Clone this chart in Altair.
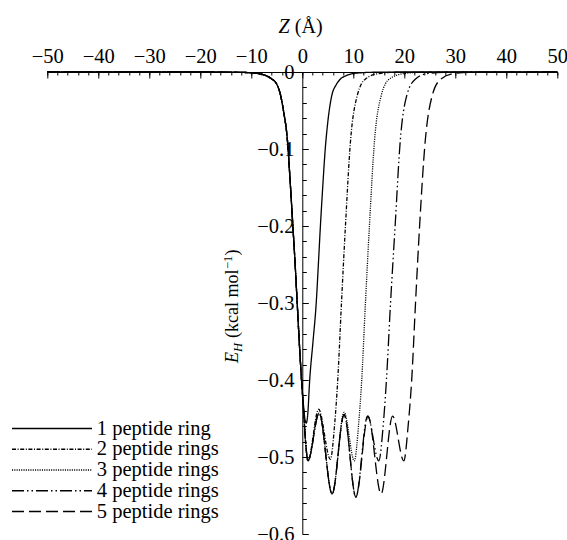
import altair as alt
import pandas as pd

# ---------------- data ----------------
series_names = ["1 peptide ring", "2 peptide rings", "3 peptide rings",
                "4 peptide rings", "5 peptide rings"]

# common descending (left) flank shared by every curve
left_z = [-50, -20, -15, -12, -10, -8.5, -7, -6, -5, -4.3, -3.7, -2.9, -2.4,
          -1.85, -1.4, -1.0, -0.6, -0.15]
left_E = [0, 0, -0.0001, -0.0005, -0.001, -0.0022, -0.005, -0.009, -0.016,
          -0.029, -0.05, -0.09, -0.14, -0.20, -0.25, -0.30, -0.35, -0.40]

# 1 peptide ring
ring1_z = [0.2, 0.5, 0.78, 1.05, 1.45, 2.1, 2.73, 3.15, 3.55, 4.0, 4.5, 5.0,
           5.8, 6.6, 7.5, 8.5, 10, 12, 15, 20, 50]
ring1_E = [-0.43, -0.45, -0.456, -0.446, -0.40, -0.35, -0.30, -0.25, -0.20,
           -0.15, -0.10, -0.065, -0.03, -0.017, -0.009, -0.005, -0.002,
           -0.0008, -0.0002, 0, 0]

# first well shared by the multi-ring curves
multi_z = [0.3, 0.7, 1.1]
multi_E = [-0.445, -0.485, -0.505]

ring2_z = [3.2, 5.5, 6.36, 6.95, 7.68, 8.46, 9.45, 10.8, 12.4, 15, 18, 50]
ring2_E = [-0.438, -0.503, -0.456, -0.40, -0.30, -0.20, -0.09, -0.03, -0.009,
           -0.002, -0.0005, 0]

ring3_z = [3.3, 5.85, 8.2, 10.2, 11.06, 11.65, 12.38, 13.16, 14.15, 15.5,
           17.1, 19.9, 23, 50]
ring3_E = [-0.443, -0.548, -0.442, -0.505, -0.456, -0.40, -0.30, -0.20, -0.09,
           -0.03, -0.009, -0.002, -0.0005, 0]

ring4_z = [3.3, 5.85, 8.2, 10.5, 12.8, 15.0, 15.9, 16.5, 17.3, 18.2, 19.2,
           20.5, 22.2, 24.5, 28, 50]
ring4_E = [-0.443, -0.548, -0.445, -0.552, -0.447, -0.505, -0.456, -0.40,
           -0.30, -0.20, -0.09, -0.03, -0.009, -0.002, -0.0005, 0]

ring5_z = [3.3, 5.85, 8.2, 10.5, 12.9, 15.45, 17.7, 19.9, 20.8, 21.45, 22.2,
           23.0, 24.1, 25.5, 27.2, 29.7, 33, 50]
ring5_E = [-0.443, -0.548, -0.445, -0.552, -0.447, -0.548, -0.447, -0.505,
           -0.456, -0.40, -0.30, -0.20, -0.09, -0.03, -0.009, -0.002, -0.0005, 0]

x_major_ticks = [-50, -40, -30, -20, -10, 0, 10, 20, 30, 40, 50]
x_minor_ticks = list(range(-50, 51, 2))
y_major_ticks = [0, -0.1, -0.2, -0.3, -0.4, -0.5, -0.6]
y_minor_ticks = [round(-0.02 * i, 2) for i in range(31)]

dash_styles = [[1, 0], [4, 1.6, 1, 1.6], [1.1, 1.2], [12, 3, 1.5, 3, 1.5, 3], [12, 5]]

# ---------------- build table ----------------
rows = []
parts = [
    (series_names[0], left_z + ring1_z, left_E + ring1_E),
    (series_names[1], left_z + multi_z + ring2_z, left_E + multi_E + ring2_E),
    (series_names[2], left_z + multi_z + ring3_z, left_E + multi_E + ring3_E),
    (series_names[3], left_z + multi_z + ring4_z, left_E + multi_E + ring4_E),
    (series_names[4], left_z + multi_z + ring5_z, left_E + multi_E + ring5_E),
]
for name, zs, es in parts:
    for z, e in zip(zs, es):
        rows.append({"series": name, "z": z, "E": e})
df = pd.DataFrame(rows)
legend_df = pd.DataFrame({"series": series_names})

FONT = "Liberation Serif"
W, H = 510, 462

x_scale = alt.Scale(domain=[-50, 50], nice=False, zero=False)
y_scale = alt.Scale(domain=[-0.6, 0], nice=False, zero=False)
dash_scale = alt.Scale(domain=series_names, range=dash_styles)
leg_scale = alt.Scale(type="point", domain=series_names, range=[356.5, 439.5], padding=0)

x_major_axis = alt.Axis(orient="bottom", offset=-H, values=x_major_ticks, format="d",
                        tickSize=6, labelPadding=-15.3, labelBaseline="alphabetic",
                        labelFlush=False, labelOverlap=False, labelFont=FONT,
                        labelFontSize=20.5, title=None, grid=False)
x_minor_axis = alt.Axis(orient="bottom", offset=-H, values=x_minor_ticks, tickSize=3,
                        labels=False, domain=False, title=None, grid=False)
y_major_axis = alt.Axis(orient="right", offset=-W / 2, values=y_major_ticks, format=".1~f",
                        tickSize=6, labelPadding=-14.3, labelAlign="right",
                        labelBaseline="middle", labelOverlap=False, labelFont=FONT,
                        labelFontSize=20.5, title=None, grid=False)
y_minor_axis = alt.Axis(orient="right", offset=-W / 2, values=y_minor_ticks, tickSize=4,
                        labels=False, domain=False, title=None, grid=False)

lines = alt.Chart(df).mark_line(interpolate="monotone", strokeWidth=1.3, color="black").encode(
    x=alt.X("z:Q", scale=x_scale, axis=x_major_axis),
    y=alt.Y("E:Q", scale=y_scale, axis=y_major_axis),
    strokeDash=alt.StrokeDash("series:N", scale=dash_scale, legend=None),
    detail="series:N",
)

minor = alt.Chart(df).mark_line(opacity=0).encode(
    x=alt.X("z:Q", scale=x_scale, axis=x_minor_axis),
    y=alt.Y("E:Q", scale=y_scale, axis=y_minor_axis),
    detail="series:N",
)

leg_rules = alt.Chart(legend_df).mark_rule(color="black", strokeWidth=1.3).encode(
    x=alt.value(-35.3), x2=alt.value(44.7),
    y=alt.Y("series:N", scale=leg_scale, axis=None),
    strokeDash=alt.StrokeDash("series:N", scale=dash_scale, legend=None),
)
leg_text = alt.Chart(legend_df).mark_text(align="left", baseline="middle", font=FONT,
                                          fontSize=20.5, color="black").encode(
    x=alt.value(49.5),
    y=alt.Y("series:N", scale=leg_scale, axis=None),
    text="series:N",
)


def label(txt, x, y, size, italic=False, angle=0):
    kw = dict(align="left", baseline="alphabetic", font=FONT, fontSize=size, color="black")
    if italic:
        kw["fontStyle"] = "italic"
    if angle:
        kw["angle"] = angle
    return alt.Chart(pd.DataFrame({"t": [txt]})).mark_text(**kw).encode(
        x=alt.value(x), y=alt.value(y), text="t:N")


# x-axis title  "Z (Å)"
t_z1 = label("Z", 231.2, -39.5, 20, italic=True)
t_z2 = label("(Å)", 247.5, -39.5, 20)
# y-axis title  "E_H (kcal mol^-1)" rotated
TX = 190.7
t_y1 = label("E", TX, 291, 18, italic=True, angle=270)
t_y2 = label("H", TX + 3.5, 280, 12.6, italic=True, angle=270)
t_y3 = label("(kcal mol", TX, 266.0, 18, angle=270)
t_y4 = label("\u22121", TX - 6.5, 197.0, 12.6, angle=270)
t_y5 = label(")", TX, 183.6, 18, angle=270)

chart = alt.layer(
    lines, minor, leg_rules, leg_text, t_z1, t_z2, t_y1, t_y2, t_y3, t_y4, t_y5
).resolve_scale(y="independent").resolve_axis(x="independent", y="independent").properties(
    width=W, height=H,
    padding={"left": 47.3, "top": 72, "right": 9.7, "bottom": 6},
    autosize=alt.AutoSizeParams(type="none"),
).configure_view(stroke=None).configure_axis(
    domainColor="black", tickColor="black", labelColor="black", domainWidth=1, tickWidth=1
)

chart.save("out.html", embed_options={"renderer": "svg", "actions": False})
